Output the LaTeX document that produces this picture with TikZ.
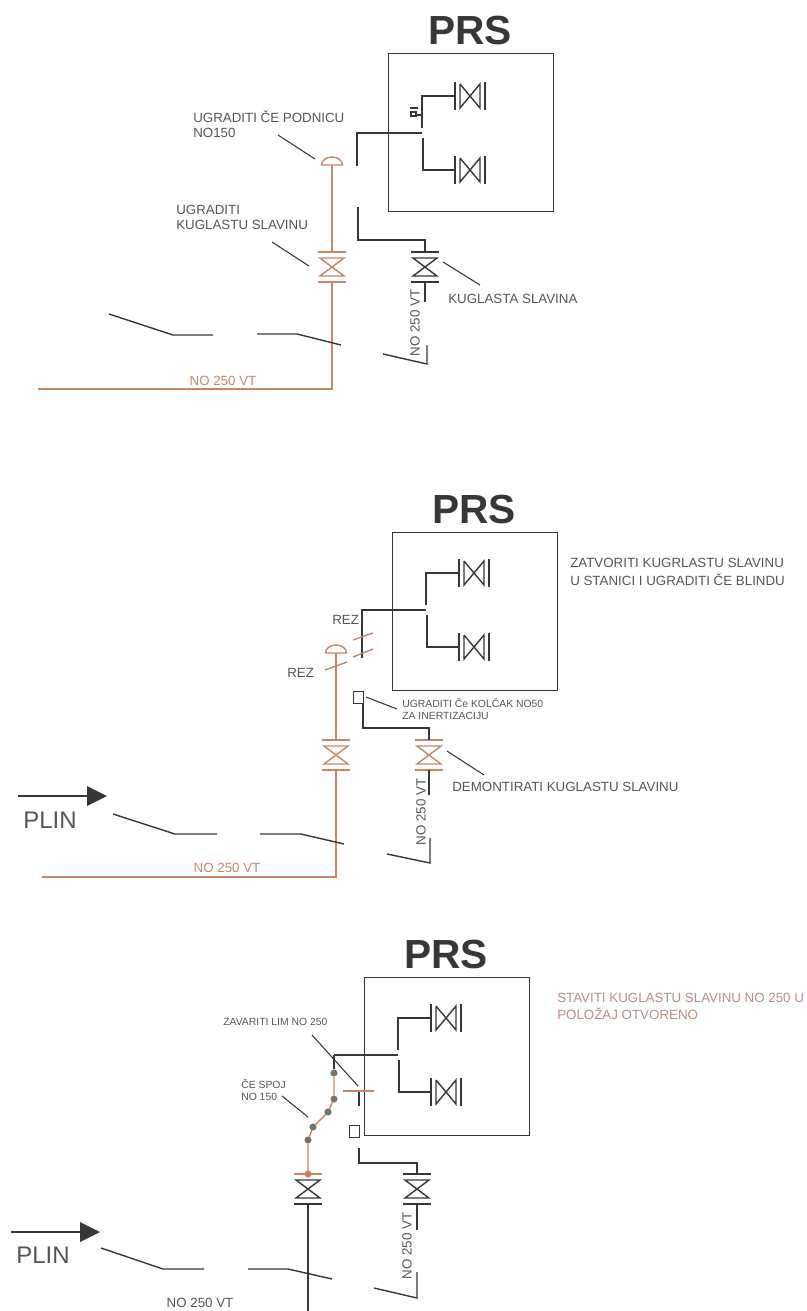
\documentclass[tikz,border=0pt]{standalone}
\usepackage{fontspec}
\setmainfont{Liberation Sans}
\usepackage{tikz}
\definecolor{pipe}{RGB}{201,134,102}
\definecolor{ink}{RGB}{55,55,55}
\definecolor{note}{RGB}{85,85,85}
\definecolor{rednote}{RGB}{190,140,130}
\tikzset{
	line/.style={
		draw = ink,
		line width = 1.05pt
	},
	pipe/.style={
		draw = pipe,
		line width = 1.05pt
	},
	lead/.style={
		draw = ink,
		line width = 0.8pt
	},
	lbl/.style={
		font = \fontsize{10}{12}\selectfont,
		text = note,
		inner sep = 0,
		anchor = west
	},
	small/.style={
		lbl,
		font = \fontsize{7.8}{9}\selectfont
	},
	nom/.style={
		lbl,
		anchor = center
	},
	title/.style={
		font = \fontsize{30.5}{31}\bfseries\selectfont,
		text = ink,
		inner sep = 0
	},
	gas/.style={
		font = \fontsize{18}{20}\selectfont,
		text = note,
		inner sep = 0,
		anchor = west
	},
	prsbox/.style={
		draw = ink,
		line width = 1.05pt,
		anchor = north west,
		minimum width = 165*0.75pt,
		minimum height = 158*0.75pt,
		inner sep = 0
	},
	stub/.style={
		draw = ink,
		line width = 0.8pt,
		anchor = north west,
		minimum width = 10*0.75pt,
		minimum height = 12*0.75pt,
		inner sep = 0
	},
	weld/.style={
		inner sep = 0,
		minimum size = 6.5*0.75pt,
		shape = circle,
		draw = ink!70,
		fill = ink!70
	},
	dome/.style={
		draw = pipe,
		line width = 1.05pt,
		fill = white
	},
	ballvalve/.pic={
		\coordinate (-top) at (0,-15);
		\coordinate (-bot) at (0,15);
		\draw[line width=1.05pt] (-14,-15) -- (14,-15) (-14,15) -- (14,15);
		\draw[line width=1.05pt] (-12,-9) -- (12,-9) -- (-12,9) -- (12,9) -- cycle;
	},
	gatevalve/.pic={
		\coordinate (-in) at (0,0);
		\draw[line width=1.3pt] (0,-14) -- (0,14);
		\draw[line width=1.05pt] (5,-12) -- (5,12) -- (25,-12) -- (25,12) -- (5,-12);
		\draw[line width=1.05pt] (30,-14) -- (30,14);
	},
}
\tikzset{>=stealth}

\begin{document}
\begin{tikzpicture}[x=0.75pt, y=-0.75pt]
    \useasboundingbox (0,0) rectangle (807,1311);
    % the three stations
    \foreach \n/\x/\y/\d/\h in {1/388/53/43/80, 2/392/532/41/78, 3/364/977/41/78}{
      \node[prsbox] (prs\n) at (\x,\y) {};
      \node[title] (title\n) at (\x+82,\y-23) {PRS};
      \pic[color=ink] (up\n) at (\x+67,\y+\d) {gatevalve};
      \pic[color=ink] (lo\n) at (\x+67,\y+\d+74) {gatevalve};
      \coordinate (bu\n) at (\x+34,\y+\d);
      \coordinate (bl\n) at (\x+35,\y+\d+74);
      \coordinate (tu\n) at (\x+34,\y+\h-5);
      \coordinate (tl\n) at (\x+35,\y+\h+5);
      \coordinate (tm\n) at (\x+34,\y+\h);
      \draw[line] (tu\n) -- (bu\n) -- (up\n-in);
      \draw[line] (tl\n) -- (bl\n) -- (lo\n-in);
    }

    % first station
    \coordinate (f1) at (357,166);
    \coordinate (f2) at (357,133);
    \draw[line] (f1) -- (f2) -- (tm1);
    \pic[color=ink] (kv1) at (425,267) {ballvalve};
    \coordinate (g1) at (358,207);
    \coordinate (g2) at (358,240);
    \coordinate (g3) at (425,240);
    \draw[line] (g1) -- (g2) -- (g3) -- (kv1-top);
    \coordinate (s1) at (425,302);
    \draw[line] (kv1-bot) -- (s1);
    \pic[color=pipe] (nv1) at (332,267) {ballvalve};
    \coordinate (d1) at (332,165);
    \coordinate (h1) at (332,389);
    \coordinate (h2) at (38,389);
    \draw[pipe] (d1) -- (nv1-top);
    \draw[pipe] (nv1-bot) -- (h1) -- (h2);
    \draw[dome] (321.5,165) arc (180:360:10.5 and 8) -- cycle;
    % tick on the upper branch
    \draw[lead] (410,108) -- (418,108) (411,112) rectangle (416,116) (416,115) -- (422,115);
    \draw[line] (109,314) coordinate (a1) -- (173,335) coordinate (a2) -- (213,335) coordinate (a3);
    \draw[line] (257,334) coordinate (a4) -- (297,334) coordinate (a5) -- (341,345) coordinate (a6);
    \draw[line] (383,354) coordinate (a7) -- (427,364) coordinate (a8) -- (427,345) coordinate (a9);
    \draw[lead] (278,135) coordinate (l1) -- (315,159) coordinate (l2);
    \draw[lead] (272,242) coordinate (l3) -- (309,266) coordinate (l4);
    \draw[lead] (443,262) coordinate (l5) -- (480,285) coordinate (l6);
    \node[lbl] (t1) at (193,117) {UGRADITI ČE PODNICU};
    \node[lbl] (t2) at (193,133) {NO150};
    \node[lbl] (t3) at (176,210) {UGRADITI};
    \node[lbl] (t4) at (176,225) {KUGLASTU SLAVINU};
    \node[lbl] (t5) at (448,299) {KUGLASTA SLAVINA};
    \node[nom, rotate=90] (t6) at (415,323) {NO 250 VT};
    \node[nom, text=pipe] (t7) at (223,381) {NO 250 VT};

    % second station
    \coordinate (f3) at (362,658);
    \coordinate (f4) at (362,610);
    \draw[line] (f3) -- (f4) -- (tm2);
    \draw[pipe] (353,640) coordinate (c1) -- (373,633) coordinate (c2);
    \draw[pipe] (353,657) coordinate (c3) -- (373,649) coordinate (c4);
    \pic[color=pipe] (kv2) at (429,755) {ballvalve};
    \node[stub] (st2) at (353,691) {};
    \coordinate (g4) at (363,703);
    \coordinate (g5) at (363,728);
    \coordinate (g6) at (429,728);
    \draw[line] (g4) -- (g5) -- (g6) -- (kv2-top);
    \coordinate (s2) at (429,795);
    \draw[line] (kv2-bot) -- (s2);
    \pic[color=pipe] (nv2) at (336,755) {ballvalve};
    \coordinate (d2) at (336,653);
    \coordinate (h3) at (336,877);
    \coordinate (h4) at (42,877);
    \draw[pipe] (d2) -- (nv2-top);
    \draw[pipe] (nv2-bot) -- (h3) -- (h4);
    \draw[dome] (325.5,653) arc (180:360:10.5 and 8) -- cycle;
    \draw[pipe] (325,670) coordinate (c5) -- (347,662) coordinate (c6);
    \draw[line] (113,814) coordinate (a10) -- (175,834) coordinate (a11) -- (217,834) coordinate (a12);
    \draw[line] (260,834) coordinate (a13) -- (301,834) coordinate (a14) -- (344,844) coordinate (a15);
    \draw[line] (387,854) coordinate (a16) -- (430,863) coordinate (a17) -- (430,838) coordinate (a18);
    \draw[lead] (366,697) coordinate (l7) -- (397,709) coordinate (l8);
    \draw[lead] (447,751) coordinate (l9) -- (484,775) coordinate (l10);
    \node[lbl] (t8) at (332,620) {REZ};
    \node[lbl] (t9) at (287,673) {REZ};
    \node[small] (t10) at (402,703) {UGRADITI Če KOLČAK NO50};
    \node[small] (t11) at (402,716) {ZA INERTIZACIJU};
    \node[lbl] (t12) at (452,787) {DEMONTIRATI KUGLASTU SLAVINU};
    \node[lbl] (t13) at (570,563) {ZATVORITI KUGRLASTU SLAVINU};
    \node[lbl] (t14) at (570,580) {U STANICI I UGRADITI ČE BLINDU};
    \node[nom, rotate=90] (t15) at (421,812) {NO 250 VT};
    \node[nom, text=pipe] (t16) at (227,868) {NO 250 VT};
    \coordinate (p1) at (18,796);
    \coordinate (p2) at (87,796);
    \draw[line] (p1) -- (p2);
    \fill[ink] (87,786) -- (107,796) -- (87,806) -- cycle;
    \node[gas] (t17) at (23,820) {PLIN};

    % third station
    \coordinate (w1) at (334,1055);
    \draw[line] (w1) -- (tm3);
    \node[weld] (w2) at (334,1073) {};
    \node[weld] (w3) at (334,1099) {};
    \node[weld] (w4) at (328,1112) {};
    \node[weld] (w5) at (313,1127) {};
    \node[weld] (w6) at (308,1140) {};
    \coordinate (w7) at (308,1174);
    \draw[line] (w1) -- (w2);
    \draw[pipe] (w2) -- (w3) -- (w4) -- (w5) -- (w6) -- (w7);
    \pic[color=ink] (nv3) at (308,1189) {ballvalve};
    \coordinate (w8) at (294,1174);
    \coordinate (w9) at (322,1174);
    \draw[pipe] (w8) -- (w9);
    \node[weld, draw=pipe, fill=pipe!90!red] (w10) at (w7) {};
    \coordinate (h5) at (308,1311);
    \draw[line] (nv3-bot) -- (h5);
    \coordinate (b1) at (343,1091);
    \coordinate (b2) at (374,1091);
    \coordinate (b3) at (359,1091);
    \coordinate (b4) at (359,1106);
    \draw[line] (b3) -- (b4);
    \draw[pipe] (b1) -- (b2);
    \node[stub] (st3) at (349,1125) {};
    \pic[color=ink] (kv3) at (417,1189) {ballvalve};
    \coordinate (g7) at (359,1148);
    \coordinate (g8) at (359,1163);
    \coordinate (g9) at (417,1163);
    \draw[line] (g7) -- (g8) -- (g9) -- (kv3-top);
    \coordinate (s3) at (417,1230);
    \draw[line] (kv3-bot) -- (s3);
    \draw[line] (101,1248) coordinate (a19) -- (163,1269) coordinate (a20) -- (204,1269) coordinate (a21);
    \draw[line] (248,1269) coordinate (a22) -- (288,1269) coordinate (a23) -- (332,1279) coordinate (a24);
    \draw[line] (374,1288) coordinate (a25) -- (417,1298) coordinate (a26) -- (417,1272) coordinate (a27);
    \draw[lead] (312,1035) coordinate (l11) -- (358,1086) coordinate (l12);
    \draw[lead] (282,1096) coordinate (l13) -- (308,1117) coordinate (l14);
    \node[small] (t18) at (223,1022) {ZAVARITI LIM NO 250};
    \node[small] (t19) at (241,1084) {ČE SPOJ};
    \node[small] (t20) at (241,1097) {NO 150};
    \node[lbl, text=rednote] (t21) at (557,998) {STAVITI KUGLASTU SLAVINU NO 250 U};
    \node[lbl, text=rednote] (t22) at (557,1014) {POLOŽAJ OTVORENO};
    \node[nom, rotate=90] (t23) at (407,1246) {NO 250 VT};
    \node[nom] (t24) at (200,1303) {NO 250 VT};
    \coordinate (p3) at (11,1232);
    \coordinate (p4) at (80,1232);
    \draw[line] (p3) -- (p4);
    \fill[ink] (80,1222) -- (100,1232) -- (80,1242) -- cycle;
    \node[gas] (t25) at (16,1255) {PLIN};
  \end{tikzpicture}
\end{document}
